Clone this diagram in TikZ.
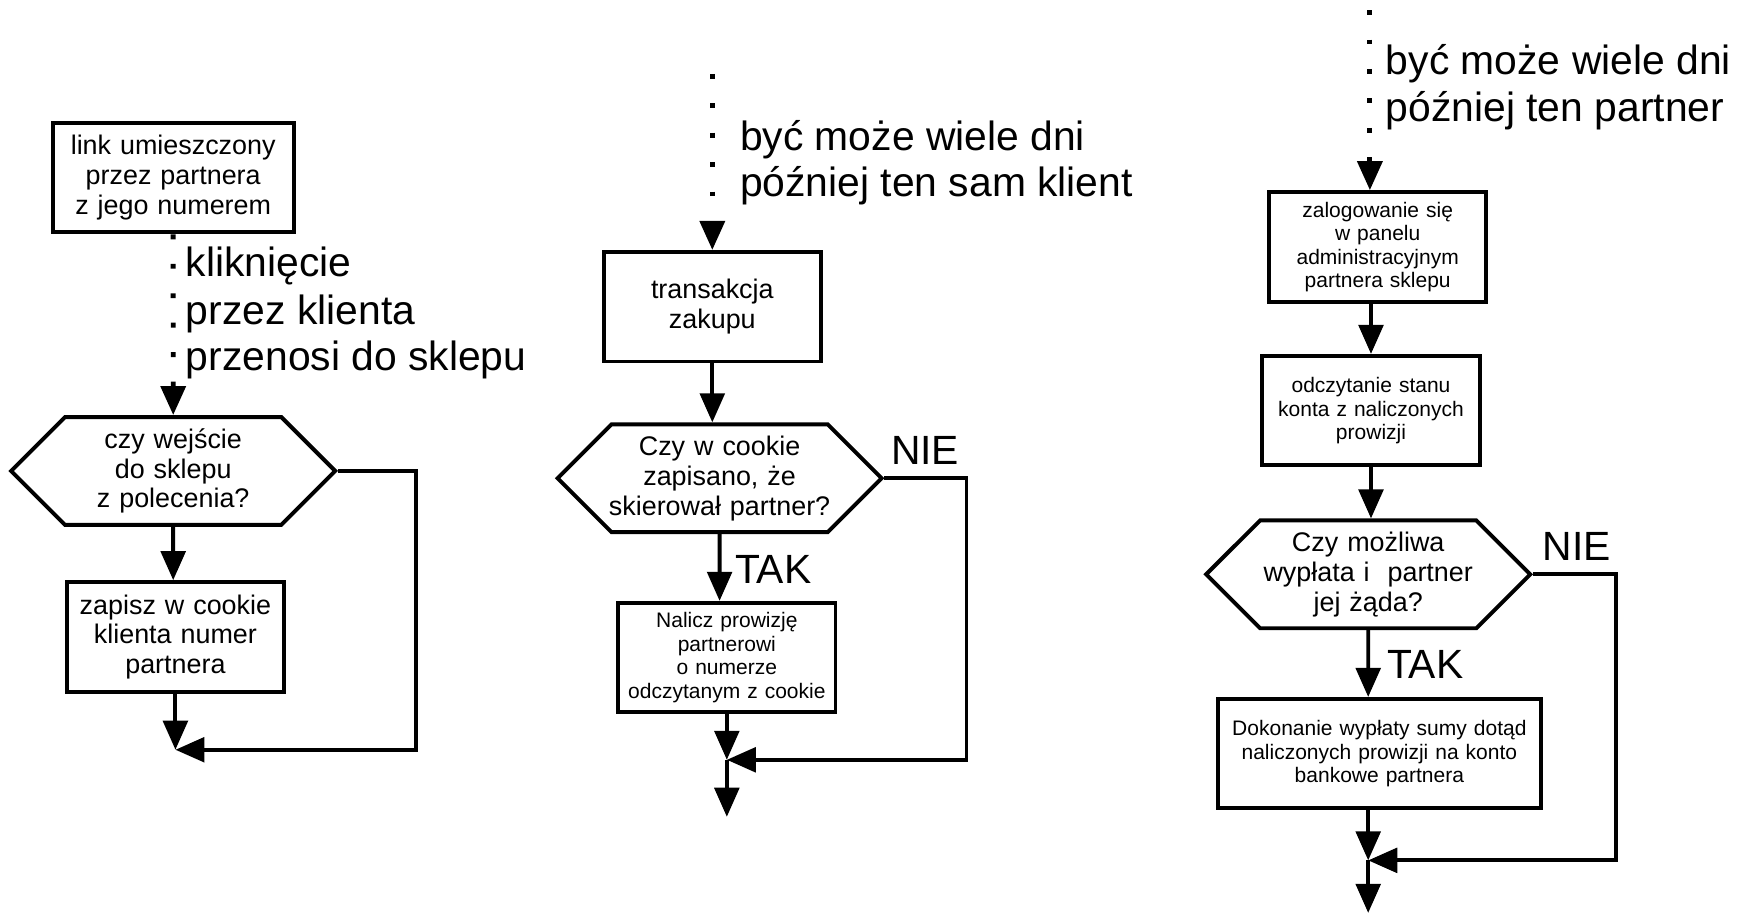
\documentclass[tikz,border=0pt]{standalone}
\usepackage{fontspec}
\setmainfont{Liberation Sans}
\usepackage{tikz}
\usetikzlibrary{shapes,arrows.meta,positioning}

\newcommand{\fbig}{\fontsize{20.8}{23.8}\selectfont}
\newcommand{\fmid}{\fontsize{13.7}{15.2}\selectfont}
\newcommand{\fsmall}{\fontsize{10.7}{11.9}\selectfont}

\tikzstyle{block} = [rectangle, draw, line width=2pt, text width=3.69cm, text centered,
    minimum height=1.96cm, inner sep=0.1cm, font=\fmid]
\tikzstyle{decision} = [signal, signal to=west and east, signal pointer angle=90, draw,
    line width=2pt, text width=3.87cm, text centered, minimum height=1.93cm, inner sep=0pt, font=\fmid]
\tikzstyle{bigtext} = [font=\fbig, inner sep=0pt]
\tikzstyle{flow} = [draw, line width=2pt, -{Triangle[length=0.52cm,width=0.44cm]}]
\tikzstyle{later} = [draw, line width=2.5pt, dash pattern=on 2.5pt off 12.5pt,
    -{Triangle[length=0.52cm,width=0.44cm]}]

\begin{document}
\begin{tikzpicture}[node distance=2cm]
    \useasboundingbox (0,0) rectangle (31.36,-16.36);

    % Place nodes: entering the shop
    \node [block, text width=4.11cm, at={(3.10,-3.18)}] (link) {link umieszczony\\ przez partnera\\ z jego numerem};
    \node [decision, below of=link, node distance=5.25cm] (entry) {czy wejście\\ do sklepu\\ z polecenia?};
    \node [block, below of=entry, node distance=2.97cm, xshift=0.04cm] (save) {zapisz w cookie\\ klienta numer\\ partnera};
    \coordinate [below of=save, node distance=2.02cm] (join1);

    \node [bigtext, anchor=base west, at={(3.32,-4.954)}] (click1) {kliknięcie};
    \node [bigtext, anchor=base west, at={(3.32,-5.80)}] (click2) {przez klienta};
    \node [bigtext, anchor=base west, at={(3.32,-6.624)}] (click3) {przenosi do sklepu};

    % Place nodes: the purchase
    \node [block, at={(12.75,-5.49)}] (buy) {transakcja\\ zakupu};
    \coordinate [above of=buy, node distance=4.17cm] (later2);
    \node [decision, text width=4.05cm, inner xsep=-0.09cm, below of=buy, node distance=3.07cm, xshift=0.13cm] (cookie) {Czy w cookie\\ zapisano, że\\ skierował partner?};
    \node [block, font=\fsmall, below of=cookie, node distance=3.21cm, xshift=0.13cm] (commission) {Nalicz prowizję\\ partnerowi\\ o numerze\\ odczytanym z cookie};
    \coordinate [below of=commission, node distance=1.83cm] (join2);
    \coordinate [below of=join2, node distance=1.02cm] (out2);

    \node [bigtext, anchor=base west, at={(13.24,-2.686)}] (days2) {być może wiele dni};
    \node [bigtext, anchor=base west, at={(13.24,-3.52)}] (client2) {później ten sam klient};
    \node [bigtext, at={(16.56,-8.07)}] (no2) {NIE};
    \node [bigtext, at={(13.84,-10.2)}] (yes2) {TAK};

    % Place nodes: the partner's payout
    \node [block, font=\fsmall, at={(24.66,-4.42)}] (login) {zalogowanie się\\ w panelu\\ administracyjnym\\ partnera sklepu};
    \coordinate [above of=login, node distance=4.24cm, xshift=-0.14cm] (later3);
    \node [block, font=\fsmall, below of=login, node distance=2.93cm, xshift=-0.12cm] (balance) {odczytanie stanu\\ konta z naliczonych\\ prowizji};
    \node [decision, below of=balance, node distance=2.93cm, xshift=-0.05cm] (payout) {Czy możliwa\\ wypłata i~ partner\\ jej żąda?};
    \node [block, font=\fsmall, text width=5.58cm, below of=payout, node distance=3.21cm, xshift=0.2cm] (transfer) {Dokonanie wypłaty sumy dotąd\\ naliczonych prowizji na konto\\ bankowe partnera};
    \coordinate [below of=transfer, node distance=1.91cm, xshift=-0.2cm] (join3);
    \coordinate [below of=join3, node distance=0.94cm] (out3);

    \node [bigtext, anchor=base west, at={(24.8,-1.34)}] (days3) {być może wiele dni};
    \node [bigtext, anchor=base west, at={(24.8,-2.18)}] (partner3) {później ten partner};
    \node [bigtext, at={(28.22,-9.78)}] (no3) {NIE};
    \node [bigtext, at={(25.51,-11.89)}] (yes3) {TAK};

    % Draw lines
    \path [later] (link) -- (entry);
    \path [flow] (entry) -- (entry |- save.north);
    \path [flow] (save) -- (join1);
    \path [flow] (entry.east) -- ++(1.40,0) |- (join1);

    \path [later] (later2) -- (buy);
    \path [flow] (buy) -- (buy |- cookie.north);
    \path [flow] (cookie) -- (cookie |- commission.north);
    \path [flow] (commission) -- (join2);
    \path [flow] (cookie.east) -- ++(1.47,0) |- (join2);
    \path [flow] (join2) -- (out2);

    \path [later] (later3) -- (later3 |- login.north);
    \path [flow] (balance |- login.south) -- (balance);
    \path [flow] (balance) -- (balance |- payout.north);
    \path [flow] (payout) -- (payout |- transfer.north);
    \path [flow] (transfer.south -| join3) -- (join3);
    \path [flow] (payout.east) -- ++(1.48,0) |- (join3);
    \path [flow] (join3) -- (out3);

\end{tikzpicture}
\end{document}
